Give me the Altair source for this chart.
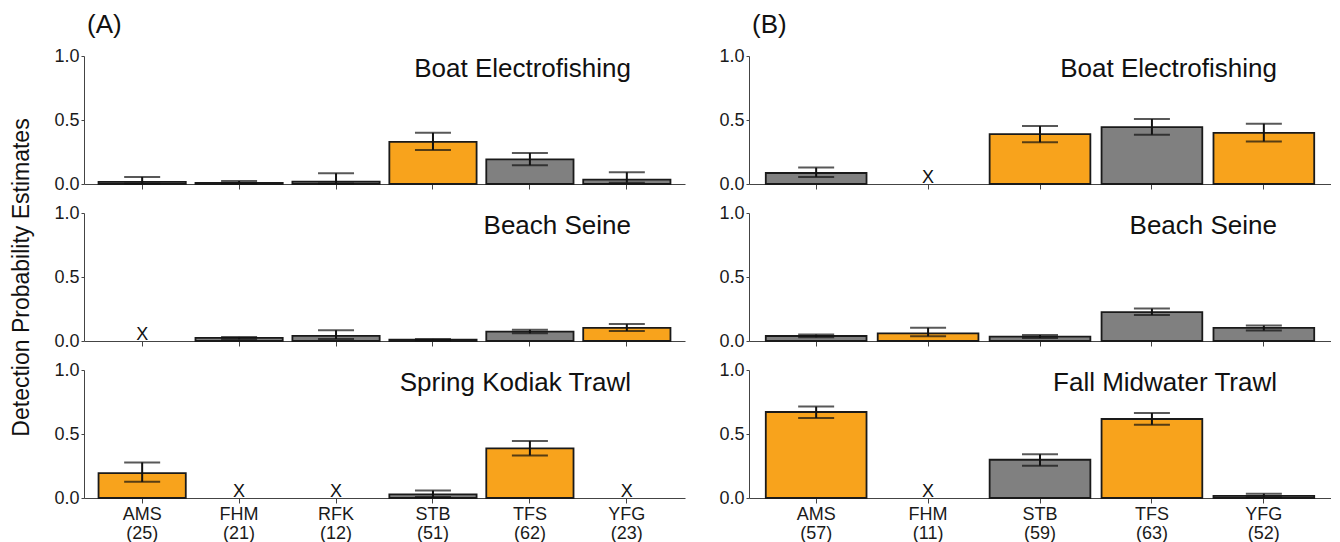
import altair as alt
import pandas as pd

# ---------------- data ----------------
species_a = ["AMS", "FHM", "RFK", "STB", "TFS", "YFG"]
counts_a = [25, 21, 12, 51, 62, 23]
species_b = ["AMS", "FHM", "STB", "TFS", "YFG"]
counts_b = [57, 11, 59, 63, 52]

titles_a = ["Boat Electrofishing", "Beach Seine", "Spring Kodiak Trawl"]
titles_b = ["Boat Electrofishing", "Beach Seine", "Fall Midwater Trawl"]

# (A) Boat Electrofishing
a1_est = [0.016, 0.008, 0.018, 0.329, 0.192, 0.034]
a1_lo = [0.004, 0.002, 0.004, 0.266, 0.147, 0.010]
a1_hi = [0.055, 0.024, 0.084, 0.400, 0.242, 0.092]
a1_hl = [0, 0, 0, 1, 0, 0]
# (A) Beach Seine
a2_est = [None, 0.024, 0.040, 0.010, 0.074, 0.103]
a2_lo = [None, 0.013, 0.016, 0.005, 0.060, 0.078]
a2_hi = [None, 0.032, 0.084, 0.016, 0.088, 0.132]
a2_hl = [0, 0, 0, 0, 0, 1]
# (A) Spring Kodiak Trawl
a3_est = [0.194, None, None, 0.029, 0.388, None]
a3_lo = [0.126, None, None, 0.008, 0.333, None]
a3_hi = [0.278, None, None, 0.058, 0.446, None]
a3_hl = [1, 0, 0, 0, 1, 0]

# (B) Boat Electrofishing
b1_est = [0.086, None, 0.390, 0.445, 0.400]
b1_lo = [0.055, None, 0.327, 0.385, 0.332]
b1_hi = [0.128, None, 0.453, 0.508, 0.471]
b1_hl = [0, 0, 1, 0, 1]
# (B) Beach Seine
b2_est = [0.039, 0.060, 0.034, 0.226, 0.103]
b2_lo = [0.029, 0.037, 0.024, 0.203, 0.082]
b2_hi = [0.050, 0.103, 0.047, 0.253, 0.121]
b2_hl = [0, 1, 0, 0, 0]
# (B) Fall Midwater Trawl
b3_est = [0.672, None, 0.299, 0.617, 0.016]
b3_lo = [0.625, None, 0.252, 0.572, 0.005]
b3_hi = [0.714, None, 0.341, 0.664, 0.034]
b3_hl = [1, 0, 0, 1, 0]

ORANGE = "#F8A31C"
GRAY = "#808080"
FONT = "Liberation Sans"


def panel(species, counts, est, lo, hi, hl, title, width, bottom, ytitle=None, tag=None):
    labels = [f"{s} ({n})" for s, n in zip(species, counts)]
    df = pd.DataFrame({
        "label": labels,
        "est": est,
        "lo": lo,
        "hi": hi,
        "hl": ["orange" if h else "gray" for h in hl],
        "missing": [e is None for e in est],
    })
    x = alt.X(
        "label:N", sort=labels,
        scale=alt.Scale(paddingInner=0.1, paddingOuter=0.15),
        axis=alt.Axis(
            title=None, labels=bottom, labelAngle=0,
            labelExpr="split(datum.label, ' ')",
            labelFontSize=18, labelLineHeight=19, labelPadding=2,
            tickSize=5, tickColor="#444", domainColor="#444",
            domainWidth=1.2, tickWidth=1,
        ),
    )

    def yenc(field):
        return alt.Y(
            f"{field}:Q",
            scale=alt.Scale(domain=[0, 1], nice=False, zero=True),
            axis=alt.Axis(
                values=[0, 0.5, 1], format=".1f", tickSize=3,
                labelFontSize=18, labelPadding=2, domainColor="#444",
                tickColor="#444", grid=False,
                title=ytitle if ytitle else None,
                titleFontSize=23, titleFontWeight="normal",
                titlePadding=20, titleColor="#111",
            ),
        )

    base = alt.Chart(df)
    present = base.transform_filter("datum.missing == false")
    bars = present.mark_bar(stroke="#1a1a1a", strokeWidth=1.8).encode(
        x=x, y=yenc("est"),
        color=alt.Color("hl:N", scale=alt.Scale(domain=["orange", "gray"], range=[ORANGE, GRAY]), legend=None),
    )
    rule = present.mark_rule(color="#111", strokeWidth=2).encode(x=x, y=yenc("lo"), y2="hi:Q")
    cap_lo = present.mark_tick(color="#111", size=36, thickness=2).encode(x=x, y=yenc("lo"))
    cap_hi = present.mark_tick(color="#111", size=36, thickness=2).encode(x=x, y=yenc("hi"))
    xmark = base.transform_filter("datum.missing == true").transform_calculate(zero="0").mark_text(
        text="X", fontSize=18, baseline="alphabetic", dy=-1, color="#111"
    ).encode(x=x, y=yenc("zero"))
    ttl = alt.Chart(pd.DataFrame({"t": [title]})).mark_text(
        align="right", baseline="alphabetic", fontSize=26, color="#111"
    ).encode(text="t:N", x=alt.value(width - 54), y=alt.value(21))
    layers = [bars, rule, cap_lo, cap_hi, xmark, ttl]
    if tag:
        tg = alt.Chart(pd.DataFrame({"t": [tag]})).mark_text(
            align="left", baseline="alphabetic", fontSize=26, color="#111"
        ).encode(text="t:N", x=alt.value(3), y=alt.value(-23))
        layers.append(tg)
    return alt.layer(*layers).properties(width=width, height=128)


WA = 601
WB = 582
panels = [
    panel(species_a, counts_a, a1_est, a1_lo, a1_hi, a1_hl, titles_a[0], WA, False, tag="(A)"),
    panel(species_b, counts_b, b1_est, b1_lo, b1_hi, b1_hl, titles_b[0], WB, False, tag="(B)"),
    panel(species_a, counts_a, a2_est, a2_lo, a2_hi, a2_hl, titles_a[1], WA, False, ytitle="Detection Probability Estimates"),
    panel(species_b, counts_b, b2_est, b2_lo, b2_hi, b2_hl, titles_b[1], WB, False),
    panel(species_a, counts_a, a3_est, a3_lo, a3_hi, a3_hl, titles_a[2], WA, True),
    panel(species_b, counts_b, b3_est, b3_lo, b3_hi, b3_hl, titles_b[2], WB, True),
]

chart = alt.concat(*panels, columns=2, spacing={"row": 29, "column": 64}, bounds="flush").properties(
    padding={"left": 2, "top": 4, "right": 0, "bottom": 0}
).configure(font=FONT).configure_view(stroke=None).configure_axis(
    labelColor="#1a1a1a", labelFont=FONT, titleFont=FONT
)

chart.save("out.html", embed_options={"renderer": "svg", "actions": False})
